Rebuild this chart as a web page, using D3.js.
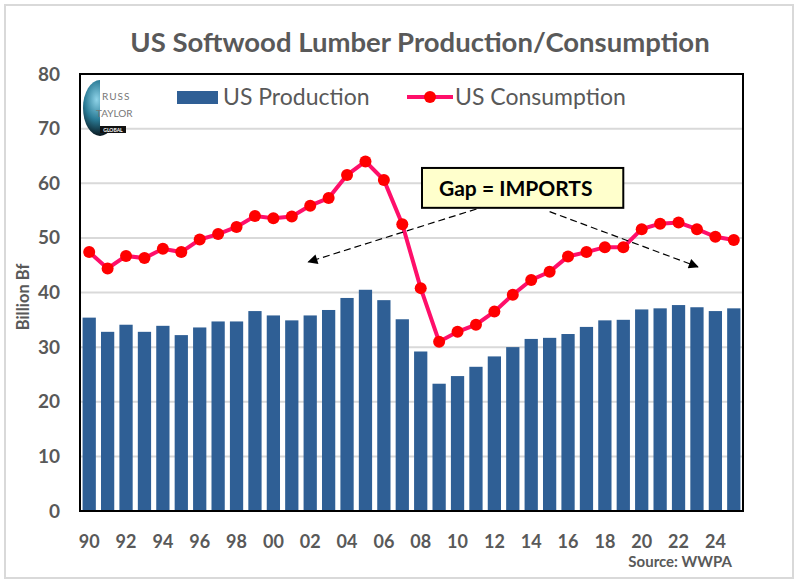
<!DOCTYPE html>
<html>
<head>
<meta charset="utf-8">
<script src="https://cdn.jsdelivr.net/npm/d3@7"></script>
<style>
  body { margin: 0; background: #fff; }
  text { font-family: Lato, "Open Sans", sans-serif; }
</style>
</head>
<body>
<div id="chart"></div>
<script>
// data (billion board feet)
const years = d3.range(1990, 2026);
const production = [35.4, 32.8, 34.1, 32.8, 33.9, 32.2, 33.6, 34.7, 34.7, 36.6,
  35.8, 34.9, 35.8, 36.8, 39.0, 40.5, 38.6, 35.1, 29.2, 23.3,
  24.7, 26.4, 28.3, 30.0, 31.5, 31.7, 32.4, 33.7, 34.9, 35.0,
  36.9, 37.1, 37.7, 37.3, 36.6, 37.1];
const consumption = [47.4, 44.4, 46.7, 46.3, 48.0, 47.4, 49.7, 50.7, 52.0, 54.0,
  53.6, 53.9, 55.9, 57.3, 61.5, 64.0, 60.6, 52.5, 40.8, 31.0,
  32.8, 34.1, 36.5, 39.6, 42.3, 43.8, 46.6, 47.4, 48.3, 48.3,
  51.6, 52.6, 52.8, 51.6, 50.2, 49.6];
const yTicks = [0, 10, 20, 30, 40, 50, 60, 70, 80];
const xTickYears = d3.range(1990, 2026, 2);

const config = {
  width: 801, height: 583,
  margin: { top: 74, right: 58, bottom: 72, left: 80 }
};
const innerW = config.width - config.margin.left - config.margin.right;
const innerH = config.height - config.margin.top - config.margin.bottom;

const svg = d3.select('#chart').append('svg')
  .attr('width', config.width)
  .attr('height', config.height);

// outer frame
svg.append('rect')
  .attr('x', 5).attr('y', 5)
  .attr('width', 788).attr('height', 573)
  .attr('fill', '#fff').attr('stroke', '#d9d9d9').attr('stroke-width', 2);

svg.append('text')
  .attr('x', 420).attr('y', 52)
  .attr('text-anchor', 'middle')
  .attr('font-size', 27.5).attr('font-weight', 'bold')
  .attr('fill', '#595959')
  .text('US Softwood Lumber Production/Consumption');

const g = svg.append('g')
  .attr('transform', `translate(${config.margin.left},${config.margin.top})`);

const x = d3.scaleBand().domain(years).range([0, innerW]).paddingInner(0.28).paddingOuter(0.14);
const y = d3.scaleLinear().domain([0, 80]).range([innerH, 0]);
// continuous year scale, used for annotation placement
const xc = yr => x(Math.floor(yr)) + x.bandwidth() / 2 + (yr - Math.floor(yr)) * x.step();

// gridlines
g.append('g')
  .selectAll('line')
  .data(yTicks.filter(d => d > 0))
  .join('line')
  .attr('x1', 0).attr('x2', innerW)
  .attr('y1', d => y(d)).attr('y2', d => y(d))
  .attr('stroke', '#d9d9d9').attr('stroke-width', 2);

// y axis labels
const yAxis = g.append('g')
  .call(d3.axisLeft(y).tickValues(yTicks).tickSize(0).tickPadding(20));
yAxis.select('.domain').remove();
yAxis.selectAll('text')
  .attr('font-size', 19).attr('font-weight', 'bold').attr('fill', '#595959')
  .style('font-family', 'Lato, sans-serif');

svg.append('text')
  .attr('transform', 'translate(29,297) rotate(-90)')
  .attr('text-anchor', 'middle')
  .attr('font-size', 16.5).attr('font-weight', 'bold').attr('fill', '#595959')
  .text('Billion Bf');

// bars
g.append('g')
  .selectAll('rect')
  .data(years)
  .join('rect')
  .attr('x', d => x(d))
  .attr('y', (d, i) => y(production[i]))
  .attr('width', x.bandwidth())
  .attr('height', (d, i) => innerH - y(production[i]))
  .attr('fill', '#2f5f95');

// x axis labels
const xAxis = g.append('g')
  .attr('transform', `translate(0,${innerH})`)
  .call(d3.axisBottom(x).tickValues(xTickYears)
    .tickFormat(d => String(d).slice(2)).tickSize(0).tickPadding(24));
xAxis.select('.domain').remove();
xAxis.selectAll('text')
  .attr('font-size', 18).attr('font-weight', 'bold').attr('fill', '#595959')
  .style('font-family', 'Lato, sans-serif');

// consumption line
const line = d3.line()
  .x((d, i) => x(years[i]) + x.bandwidth() / 2)
  .y(d => y(d));
g.append('path')
  .datum(consumption)
  .attr('d', line)
  .attr('fill', 'none')
  .attr('stroke', '#ff0f6a')
  .attr('stroke-width', 4);
g.append('g')
  .selectAll('circle')
  .data(consumption)
  .join('circle')
  .attr('cx', (d, i) => x(years[i]) + x.bandwidth() / 2)
  .attr('cy', d => y(d))
  .attr('r', 6)
  .attr('fill', '#ff0000');

// plot frame
g.append('rect')
  .attr('width', innerW).attr('height', innerH)
  .attr('fill', 'none').attr('stroke', '#000').attr('stroke-width', 2);

// annotation arrows
svg.append('defs').append('marker')
  .attr('id', 'arrow')
  .attr('viewBox', '0 0 10 10')
  .attr('refX', 9).attr('refY', 5)
  .attr('markerWidth', 14).attr('markerHeight', 10)
  .attr('markerUnits', 'userSpaceOnUse')
  .attr('orient', 'auto')
  .append('path').attr('d', 'M0,0L10,5L0,10z').attr('fill', '#000');

const arrows = [
  { from: [2011.6, 55.9], to: [2001.9, 45.6] },
  { from: [2015.0, 54.8], to: [2023.05, 44.7] }
];
g.append('g')
  .selectAll('line')
  .data(arrows)
  .join('line')
  .attr('x1', d => xc(d.from[0])).attr('y1', d => y(d.from[1]))
  .attr('x2', d => xc(d.to[0])).attr('y2', d => y(d.to[1]))
  .attr('stroke', '#000').attr('stroke-width', 1.2)
  .attr('stroke-dasharray', '7,4')
  .attr('marker-end', 'url(#arrow)');

// annotation box
const box = g.append('g')
  .attr('transform', `translate(${xc(2008.07)},${y(62.8)})`);
box.append('rect')
  .attr('width', xc(2019.0) - xc(2008.07))
  .attr('height', y(55.5) - y(62.8))
  .attr('fill', '#ffffcc').attr('stroke', '#000').attr('stroke-width', 2);
box.append('text')
  .attr('x', 17).attr('y', 28)
  .attr('font-size', 21).attr('font-weight', 'bold').attr('fill', '#000')
  .text('Gap = IMPORTS');

// legend
const legend = svg.append('g').attr('transform', 'translate(177,97)');
legend.append('rect')
  .attr('x', 0).attr('y', -6).attr('width', 41).attr('height', 13)
  .attr('fill', '#2f5f95');
legend.append('text')
  .attr('x', 46).attr('y', 8)
  .attr('font-size', 23).attr('fill', '#595959')
  .text('US Production');
legend.append('line')
  .attr('x1', 230).attr('x2', 276).attr('y1', 0).attr('y2', 0)
  .attr('stroke', '#ff0f6a').attr('stroke-width', 4);
legend.append('circle')
  .attr('cx', 253).attr('cy', 0).attr('r', 6).attr('fill', '#ff0000');
legend.append('text')
  .attr('x', 278).attr('y', 8)
  .attr('font-size', 23).attr('fill', '#595959')
  .text('US Consumption');

// logo (globe badge)
const logo = svg.append('g').attr('transform', 'translate(83,80)');
const grad = svg.select('defs').append('radialGradient')
  .attr('id', 'globe').attr('cx', '40%').attr('cy', '35%').attr('r', '65%');
grad.append('stop').attr('offset', '0%').attr('stop-color', '#8fd3e8');
grad.append('stop').attr('offset', '55%').attr('stop-color', '#2a7b96');
grad.append('stop').attr('offset', '100%').attr('stop-color', '#0a1a22');
logo.append('ellipse')
  .attr('cx', 17).attr('cy', 28).attr('rx', 17).attr('ry', 28)
  .attr('fill', 'url(#globe)');
logo.append('rect')
  .attr('x', 17).attr('y', 0).attr('width', 26).attr('height', 46).attr('fill', '#fff');
logo.append('text').attr('x', 19).attr('y', 20)
  .attr('font-size', 10).attr('fill', '#777').attr('letter-spacing', 1).text('RUSS');
logo.append('text').attr('x', 13).attr('y', 37)
  .attr('font-size', 10).attr('fill', '#777').text('TAYLOR');
logo.append('rect')
  .attr('x', 17).attr('y', 46).attr('width', 26).attr('height', 7).attr('fill', '#111');
logo.append('text').attr('x', 30).attr('y', 52)
  .attr('text-anchor', 'middle')
  .attr('font-size', 5).attr('font-weight', 'bold').attr('fill', '#fff').text('GLOBAL');

svg.append('text')
  .attr('x', 732).attr('y', 567)
  .attr('text-anchor', 'end')
  .attr('font-size', 15).attr('font-weight', 'bold').attr('fill', '#595959')
  .text('Source: WWPA');
</script>
</body>
</html>
